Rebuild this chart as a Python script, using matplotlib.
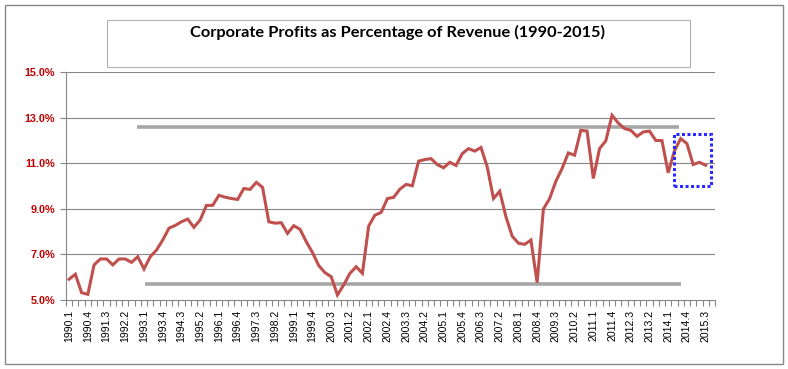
import matplotlib
matplotlib.use("Agg")
import matplotlib.pyplot as plt
from matplotlib.patches import Rectangle
import numpy as np

# ---- data ----
quarters = [f"{y}.{q}" for y in range(1990, 2016) for q in range(1, 5)][:103]
profit_pct = [
    5.91, 6.13, 5.32, 5.25, 6.54, 6.80, 6.80, 6.54, 6.80, 6.80, 6.65, 6.90,
    6.36, 6.90, 7.19, 7.63, 8.15, 8.27, 8.43, 8.55, 8.19, 8.51, 9.15, 9.15,
    9.59, 9.51, 9.45, 9.41, 9.89, 9.85, 10.16, 9.94, 8.43, 8.37, 8.39, 7.92,
    8.26, 8.10, 7.56, 7.08, 6.51, 6.20, 6.02, 5.22, 5.66, 6.17, 6.46, 6.17,
    8.24, 8.72, 8.84, 9.45, 9.50, 9.86, 10.07, 10.01, 11.09, 11.16, 11.20, 10.94,
    10.80, 11.04, 10.90, 11.42, 11.64, 11.53, 11.69, 10.84, 9.45, 9.77, 8.65, 7.80,
    7.49, 7.44, 7.63, 5.76, 8.99, 9.45, 10.21, 10.77, 11.45, 11.35, 12.44, 12.41,
    10.33, 11.64, 11.98, 13.10, 12.76, 12.52, 12.44, 12.18, 12.37, 12.41, 12.00, 11.99,
    10.58, 11.54, 12.08, 11.86, 10.94, 11.04, 10.91,
]
n_categories = 104  # one trailing empty category on the axis
label_step = 3
y_ticks = [5, 7, 9, 11, 13, 15]

# annotation shapes (category index range, level in %)
upper_band = (10.85, 97.7, 12.59)
lower_band = (12.1, 98.0, 5.72)
highlight_box = (96.9, 102.9, 9.99, 12.30)  # x0, x1, y0, y1

title = "Corporate Profits as Percentage of Revenue (1990-2015)"

# ---- figure ----
W, H = 788, 369
fig = plt.figure(figsize=(W / 100, H / 100), dpi=100)
fig.patch.set_facecolor("white")

# outer chart border
fig.add_artist(Rectangle((5 / W, 5 / H), (783 - 5) / W, (364 - 5) / H,
                         transform=fig.transFigure, fill=False,
                         edgecolor="#888888", linewidth=1.0))
# title box
fig.add_artist(Rectangle((107 / W, 1 - 67 / H), (690 - 107) / W, (67 - 20) / H,
                         transform=fig.transFigure, fill=False,
                         edgecolor="#b0b0b0", linewidth=0.8))
fig.text(398 / W, 1 - 32 / H, title, ha="center", va="center",
         fontsize=11.8, fontweight="bold", family="Lato", color="black")

ax = fig.add_axes([66 / W, 1 - 300 / H, (715 - 66) / W, (300 - 72) / H])
x = np.arange(len(profit_pct))

ax.set_xlim(-0.5, n_categories - 0.5)
ax.set_ylim(5, 15)

# gridlines
for v in y_ticks[1:]:
    ax.axhline(v, color="#868686", linewidth=0.8, zorder=1)

# annotation levels
ax.plot([upper_band[0], upper_band[1]], [upper_band[2]] * 2,
        color="#a6a6a6", linewidth=2.6, solid_capstyle="butt", zorder=2)
ax.plot([lower_band[0], lower_band[1]], [lower_band[2]] * 2,
        color="#a6a6a6", linewidth=2.6, solid_capstyle="butt", zorder=2)

ax.plot(x, profit_pct, color="#c0504d", linewidth=2.2, zorder=3,
        solid_joinstyle="miter")

bx0, bx1, by0, by1 = highlight_box
ax.add_patch(Rectangle((bx0, by0), bx1 - bx0, by1 - by0, fill=False,
                       edgecolor="#2b2bff", linewidth=2.2,
                       linestyle=(0, (1, 0.8)), zorder=4, clip_on=False))

# axes styling
for s in ["top", "right"]:
    ax.spines[s].set_visible(False)
ax.spines["left"].set_color("#868686")
ax.spines["bottom"].set_color("#868686")
ax.spines["left"].set_linewidth(0.8)
ax.spines["bottom"].set_linewidth(0.8)

ax.set_yticks(y_ticks)
ax.set_yticklabels([f"{v:.1f}%" for v in y_ticks], color="#c00000",
                   fontweight="bold", fontsize=7.8, family="Liberation Sans")
ax.tick_params(axis="y", length=4, color="#868686", width=0.8, pad=4)

label_idx = list(range(0, len(quarters), label_step))
ax.set_xticks(label_idx)
ax.set_xticklabels([quarters[i] for i in label_idx], rotation=90,
                   fontsize=7.6, family="Liberation Sans", color="black")
ax.tick_params(axis="x", which="major", length=0, pad=7)
ax.set_xticks(np.arange(n_categories + 1) - 0.5, minor=True)
ax.tick_params(axis="x", which="minor", length=4, color="#868686", width=0.8)

fig.savefig("out.png", dpi=100, facecolor="white")
